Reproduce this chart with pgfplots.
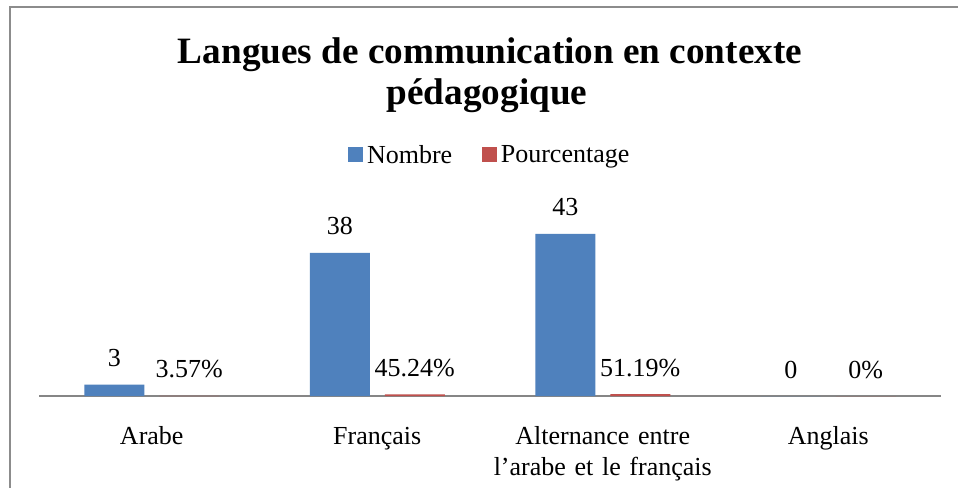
\documentclass[border=0pt]{standalone}
\usepackage{fontspec}
\setmainfont{Liberation Serif}
\usepackage{pgfplots}
\pgfplotsset{compat=1.18}
\definecolor{nbblue}{HTML}{4F81BD}
\definecolor{pcred}{HTML}{C0504D}
\definecolor{framegray}{HTML}{8C8C8C}
\definecolor{axgray}{HTML}{868686}

\begin{document}
\begin{tikzpicture}
% page in pixels of the reference, 1px = 0.5pt, origin top left
\begin{scope}[x=0.5pt,y=-0.5pt]
\useasboundingbox (0,0) rectangle (958,487);
\fill[white] (0,0) rectangle (958,487);
\draw[framegray,line width=1pt] (9.5,495) -- (9.5,7) -- (965,7);
\node[font=\fontsize{18.6}{20.5}\selectfont\bfseries,anchor=base] at (490,63) {Langues de communication en contexte};
\node[font=\fontsize{18.6}{20.5}\selectfont\bfseries,anchor=base] at (487,104) {pédagogique};
\end{scope}

\begin{axis}[
  at={(19.5pt,-198pt)}, anchor=south west,
  scale only axis, width=451pt, height=94.2pt,
  ymin=0, ymax=50, xmin=-0.5, xmax=3.5,
  axis y line=none, axis x line*=bottom,
  x axis line style={axgray,line width=0.85pt,-},
  xtick={0,1,2,3}, xtick style={draw=none},
  xticklabels={Arabe,Français,{Alternance entre\\l’arabe et le français},Anglais},
  xticklabel style={font=\fontsize{13}{15.5}\selectfont,align=center,text width=120pt,anchor=base,yshift=-20pt},
  ybar=7.5pt, bar width=30pt,
  point meta=explicit symbolic,
  nodes near coords,
  every node near coord/.append style={font=\fontsize{13}{15.5}\selectfont,text=black,anchor=base,yshift=9pt},
  legend columns=2,
  legend style={draw=none,fill=none,font=\fontsize{13}{15.5}\selectfont,
    at={(rel axis cs:0.501,1.274)},anchor=center,
    /tikz/every even column/.append style={column sep=13pt}},
  legend image code/.code={\fill[#1] (0pt,-3pt) rectangle (7.3pt,4.3pt);},
]
\addplot[fill=nbblue,draw=none] coordinates {(0,3) [3] (1,38) [38] (2,43) [43] (3,0) [0]};
\addplot[fill=pcred,draw=none] coordinates {(0,0.0357) [3.57\%] (1,0.4524) [45.24\%] (2,0.5119) [51.19\%] (3,0) [0\%]};
\legend{Nombre,Pourcentage}
\end{axis}
\end{tikzpicture}
\end{document}
